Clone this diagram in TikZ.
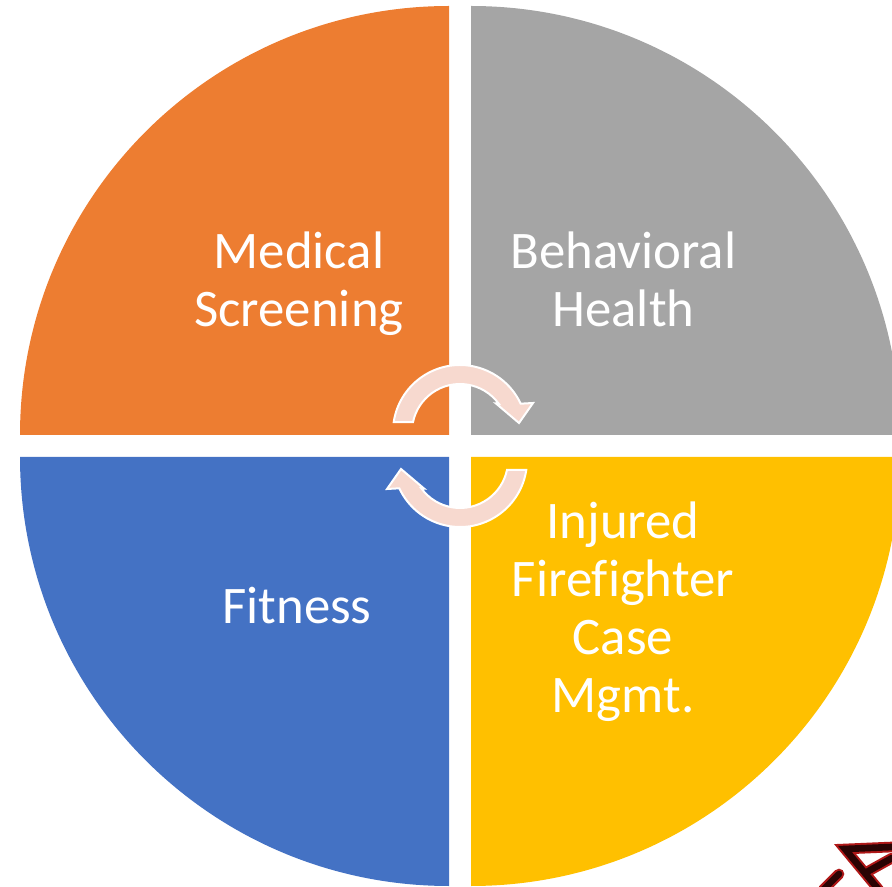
\documentclass[tikz,border=0pt]{standalone}
\usepackage{fontspec}
\setmainfont[Ligatures=NoCommon]{Carlito}
\usepackage{tikz}

\definecolor{qorange}{HTML}{ED7D31}
\definecolor{qgray}{HTML}{A5A5A5}
\definecolor{qblue}{HTML}{4472C4}
\definecolor{qyellow}{HTML}{FFC000}
\definecolor{cyclefill}{HTML}{F7D9CF}
\definecolor{markred}{HTML}{2A0303}
\definecolor{markglow}{HTML}{B01818}

\tikzset{
  quadlabel/.style={text=white, align=center, anchor=base, inner sep=0pt,
    font=\fontsize{39.6}{43.5}\selectfont},
  cyclearrow/.style={fill=cyclefill, draw=white, line width=1.5pt},
  markhalo/.style={draw=markglow, line width=8pt, line cap=round},
  markline/.style={draw=markred, line width=5pt, line cap=round},
}

\begin{document}
\begin{tikzpicture}[x=0.75pt,y=0.75pt]
\useasboundingbox (0,0) rectangle (892,886);
\clip (0,0) rectangle (892,886);
% Draw the four quarters
\fill[qorange] (449,451) -- (20,451) arc[start angle=180,end angle=90,radius=429] -- cycle;
\fill[qgray] (471,451) -- (471,880) arc[start angle=90,end angle=0,radius=429] -- cycle;
\fill[qblue] (449,429) -- (449,0) arc[start angle=270,end angle=180,radius=429] -- cycle;
\fill[qyellow] (471,429) -- (900,429) arc[start angle=0,end angle=-90,radius=429] -- cycle;
% Draw the two cycle arrows, the second one turned round the middle
\foreach \turn in {0,180} {
  \draw[cyclearrow, rotate around={\turn:(460,440)}]
    (393.7,463.9) arc[start angle=171.5,end angle=25,radius=67]
    -- (533,483) -- (519,463) -- (496,482.5) -- (498.8,482.2)
    arc[start angle=36,end angle=168,radius=48] -- cycle;
}
% Label the quarters (base = last line)
\node[quadlabel] (medical) at (299,559) {Medical\\Screening};
\node[quadlabel] (behavioral) at (623.5,559) {Behavioral\\Health};
\node[quadlabel] (fitness) at (297,263) {Fitness};
\node[quadlabel] (injured) at (623,174) {Injured\\Firefighter\\Case\\Mgmt.};
% Corner of the red marker arrow
\foreach \pen in {markhalo,markline} {
  \draw[\pen] (892,39) -- (845,37) -- (879,-4);
  \draw[\pen] (865,13) -- (892,28);
  \draw[\pen] (823,-4) -- (839,12);
}
\end{tikzpicture}
\end{document}
